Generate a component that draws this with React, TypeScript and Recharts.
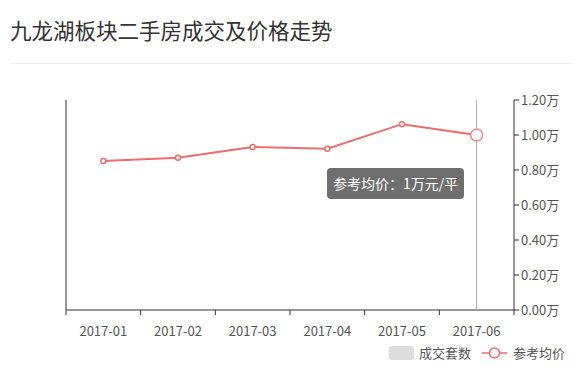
import React from "react";
import {
  ComposedChart,
  Line,
  XAxis,
  YAxis,
  Tooltip,
  Legend,
} from "recharts";

// ── data ────────────────────────────────────────
const MONTHS = ["2017-01", "2017-02", "2017-03", "2017-04", "2017-05", "2017-06"];
const AVG_PRICE = [0.851, 0.87, 0.931, 0.922, 1.062, 1.0]; // 万元/平
const Y_TICKS = [0, 0.2, 0.4, 0.6, 0.8, 1.0, 1.2];

const data = MONTHS.map((m, i) => ({ month: m, price: AVG_PRICE[i] }));

const FONT = '"Noto Sans CJK SC", "Noto Sans", sans-serif';
const LINE_COLOR = "#ee6c6c";
const AXIS_COLOR = "#333";
const LABEL_COLOR = "#555";

// x ticks sit on the category boundaries, labels in the middle
function MonthTick(props: any) {
  const { x, y, payload, index, visibleTicksCount } = props;
  const half = 448 / MONTHS.length / 2;
  const last = index === (visibleTicksCount ?? MONTHS.length) - 1;
  return (
    <g>
      <line x1={x - half} x2={x - half} y1={y - 8} y2={y - 3} stroke={AXIS_COLOR} />
      {last && <line x1={x + half} x2={x + half} y1={y - 8} y2={y - 3} stroke={AXIS_COLOR} />}
      <text x={x} y={y + 18} textAnchor="middle" fill={LABEL_COLOR} fontSize={13} fontFamily={FONT}>
        {payload.value}
      </text>
    </g>
  );
}

function PriceTooltip({ active, payload }: any) {
  if (!active || !payload || !payload.length) return null;
  const v = payload[0].value;
  return (
    <div
      style={{
        background: "#6e6e6e",
        color: "#fff",
        borderRadius: 4,
        padding: "5px 6px",
        fontSize: 14,
        fontFamily: FONT,
        lineHeight: "21px",
        whiteSpace: "nowrap",
      }}
    >
      参考均价：{Math.round(v)}万元/平
    </div>
  );
}

function ChartLegend() {
  return (
    <div
      style={{
        display: "flex",
        justifyContent: "flex-end",
        alignItems: "center",
        fontSize: 13,
        color: LABEL_COLOR,
        fontFamily: FONT,
        paddingRight: 9,
        paddingTop: 3,
      }}
    >
      <span style={{ display: "inline-block", width: 25, height: 14, background: "#ddd", borderRadius: 3, marginRight: 5 }} />
      <span style={{ marginRight: 11 }}>成交套数</span>
      <svg width={25} height={14} style={{ marginRight: 6 }}>
        <line x1={0} x2={25} y1={7} y2={7} stroke={LINE_COLOR} strokeWidth={1.5} />
        <circle cx={12.5} cy={7} r={5} fill="#fff" stroke={LINE_COLOR} strokeWidth={1.5} />
      </svg>
      <span>参考均价</span>
    </div>
  );
}

export default function App() {
  return (
    <div style={{ position: "absolute", left: 0, top: 0, width: 582, height: 373, background: "#fff", fontFamily: FONT }}>
      <div style={{ position: "absolute", left: 10, top: 15, fontSize: 21.5, color: "#333", lineHeight: "30px" }}>
        九龙湖板块二手房成交及价格走势
      </div>
      <div style={{ position: "absolute", left: 10, right: 10, top: 63, height: 1, background: "#f0f0f0" }} />
      <div style={{ position: "absolute", left: 0, top: 0 }}>
        <ComposedChart width={582} height={373} data={data} margin={{ top: 100, right: 8, bottom: 3, left: 65 }}>
          <XAxis
            dataKey="month"
            scale="band"
            axisLine={{ stroke: AXIS_COLOR }}
            tickLine={false}
            tick={<MonthTick />}
            height={30}
          />
          <YAxis yAxisId="l" orientation="left" width={1} domain={[0, 1.2]} ticks={Y_TICKS} tick={false} tickLine={false} axisLine={{ stroke: AXIS_COLOR }} />
          <YAxis
            yAxisId="r"
            orientation="right"
            width={60}
            domain={[0, 1.2]}
            ticks={Y_TICKS}
            tickFormatter={(v: number) => `${v.toFixed(2)}万`}
            axisLine={{ stroke: AXIS_COLOR }}
            tickLine={{ stroke: AXIS_COLOR }}
            tickSize={5}
            tick={{ fill: LABEL_COLOR, fontSize: 13, fontFamily: FONT }}
          />
          <Tooltip
            active
            defaultIndex={5}
            position={{ x: 327, y: 168 }}
            cursor={{ stroke: "#aaa", strokeWidth: 1 }}
            content={<PriceTooltip />}
            isAnimationActive={false}
          />
          <Legend verticalAlign="bottom" height={30} content={<ChartLegend />} />
          <Line
            yAxisId="r"
            type="linear"
            dataKey="price"
            stroke={LINE_COLOR}
            strokeWidth={2}
            dot={{ r: 2.5, fill: "#fff", stroke: LINE_COLOR, strokeWidth: 1.5 }}
            activeDot={{ r: 6, fill: "#fff", stroke: "#f08a8a", strokeWidth: 1.5 }}
            isAnimationActive={false}
          />
        </ComposedChart>
      </div>
    </div>
  );
}
